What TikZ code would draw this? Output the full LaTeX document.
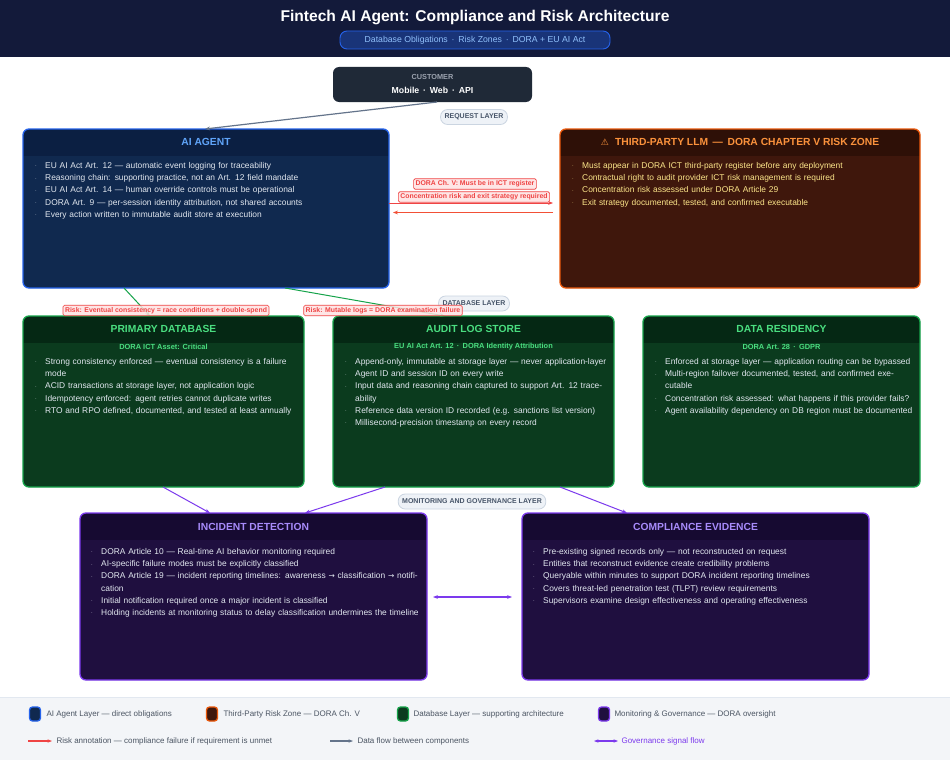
\documentclass[tikz,border=0pt]{standalone}
\usepackage{fontspec}
\setmainfont{Liberation Sans}
\usetikzlibrary{arrows.meta}
\definecolor{hdr}{HTML}{131A3A}
\definecolor{aifill}{HTML}{10294F}\definecolor{aihead}{HTML}{0B1F42}\definecolor{aiborder}{HTML}{2563EB}\definecolor{aititle}{HTML}{60A5FA}
\definecolor{tpfill}{HTML}{3F170C}\definecolor{tphead}{HTML}{2E1007}\definecolor{tpborder}{HTML}{EA580C}\definecolor{tptitle}{HTML}{FB923C}\definecolor{tptext}{HTML}{FDE68A}
\definecolor{dbfill}{HTML}{0B3B1E}\definecolor{dbhead}{HTML}{052814}\definecolor{dbborder}{HTML}{16A34A}\definecolor{dbtitle}{HTML}{4ADE80}
\definecolor{mofill}{HTML}{1F0F3F}\definecolor{mohead}{HTML}{160A31}\definecolor{moborder}{HTML}{7C3AED}\definecolor{motitle}{HTML}{A78BFA}
\definecolor{pillfill}{HTML}{EEF2F7}\definecolor{pillborder}{HTML}{CBD5E1}\definecolor{pilltext}{HTML}{475569}
\definecolor{riskred}{HTML}{EF4444}\definecolor{riskfill}{HTML}{FEE2E2}
\definecolor{bodytext}{HTML}{E2E8F0}
\definecolor{legbg}{HTML}{F3F5F8}\definecolor{legline}{HTML}{E2E8F0}
\definecolor{custfill}{HTML}{1F2937}\definecolor{custgray}{HTML}{9CA3AF}
\definecolor{flowgray}{HTML}{64748B}\definecolor{legtext}{HTML}{4B5563}
\newcommand{\bl}[1]{\par\hangindent=10pt\hangafter=1\noindent\makebox[10pt][l]{\raisebox{0.5pt}{\tiny·}}#1}
\tikzset{
 x=1pt,y=-1pt,
 pill/.style={draw=pillborder,fill=pillfill,rounded corners=7pt,line width=0.8pt,text=pilltext,font=\fontsize{7}{8}\selectfont\bfseries,inner sep=4pt,minimum height=15pt},
 risk/.style={draw=riskred,fill=riskfill,fill opacity=0.85,text opacity=1,rounded corners=1.5pt,text=riskred,font=\fontsize{6.9}{8}\selectfont\bfseries,inner sep=2pt,line width=0.6pt},
 list/.style={anchor=north west,inner sep=0pt,font=\fontsize{8.4}{12.2}\selectfont,align=left},
 btitle/.style={font=\fontsize{10.3}{12}\selectfont\bfseries},
 sub/.style={font=\fontsize{7.4}{9}\selectfont\bfseries},
}
\newcommand{\panel}[8]{% name,x1,y1,x2,y2,fill,head,border
 \fill[#6,rounded corners=6pt] (#2,#3) rectangle (#4,#5);
 \begin{scope}
 \clip[rounded corners=6pt] (#2,#3) rectangle (#4,#5);
 \fill[#7] (#2,#3) rectangle (#4,#3+27);
 \end{scope}
 \draw[#8,line width=1.3pt,rounded corners=6pt] (#2,#3) rectangle (#4,#5);
 \coordinate (#1-nw) at (#2,#3); \coordinate (#1-se) at (#4,#5);
}
\begin{document}
\begin{tikzpicture}
\useasboundingbox (0,0) rectangle (950,776);
\fill[white] (0,0) rectangle (950,776);
% header
\fill[hdr] (0,0) rectangle (950,57);
\node[text=white,font=\fontsize{15.6}{17}\selectfont\bfseries] (title) at (475,18) {Fintech AI Agent: Compliance and Risk Architecture};
\node[draw=aiborder,fill=aiborder!35!hdr,rounded corners=7pt,text=aititle!70!white,font=\fontsize{8.7}{10}\selectfont,minimum width=270pt,minimum height=18pt,inner sep=2pt,line width=0.9pt] (subt) at (475,40) {Database Obligations \,·\, Risk Zones \,·\, DORA + EU AI Act};
% legend bg
\fill[legbg] (0,697) rectangle (950,760);
\draw[legline] (0,697) -- (950,697);
% customer
\node[fill=custfill,rounded corners=6pt,minimum width=199pt,minimum height=35pt] (cust) at (432.5,84.5) {};
\node[text=custgray,font=\fontsize{7.3}{8}\selectfont\bfseries] (custt) at (432.5,77) {CUSTOMER};
\node[text=white,font=\fontsize{8.7}{10}\selectfont\bfseries] (custs) at (432.5,90) {Mobile \,·\, Web \,·\, API};
\node[pill] (req) at (474,117) {REQUEST LAYER};
% AI agent
\panel{ai}{23}{129}{389}{288}{aifill}{aihead}{aiborder}
\node[btitle,text=aititle] (ait) at (206,142) {AI AGENT};
\node[list,text width=340pt,text=bodytext] (ail) at (35,156) {%
\bl{EU AI Act Art. 12 — automatic event logging for traceability}
\bl{Reasoning chain: supporting practice, not an Art. 12 field mandate}
\bl{EU AI Act Art. 14 — human override controls must be operational}
\bl{DORA Art. 9 — per-session identity attribution, not shared accounts}
\bl{Every action written to immutable audit store at execution}};
% third party
\panel{tp}{560}{129}{920}{288}{tpfill}{tphead}{tpborder}
\node[btitle,text=tptitle] (tpt) at (740,142) {\fontspec{DejaVu Sans}\fontsize{9}{10}\selectfont ⚠\ \ \fontspec{Liberation Sans}\fontsize{10.3}{12}\selectfont\bfseries THIRD-PARTY LLM \,—\, DORA CHAPTER V RISK ZONE};
\node[list,text width=345pt,text=tptext] (tpl) at (572,156) {%
\bl{Must appear in DORA ICT third-party register before any deployment}
\bl{Contractual right to audit provider ICT risk management is required}
\bl{Concentration risk assessed under DORA Article 29}
\bl{Exit strategy documented, tested, and confirmed executable}};
% AI <-> LLM arrows
\coordinate (a1) at (389,203); \coordinate (b1) at (553,203);
\coordinate (a2) at (393,212.5); \coordinate (b2) at (553,212.5);
\draw[riskred,line width=1pt,-{Stealth[length=5pt]}] (a1) -- (b1);
\draw[riskred!80!orange,line width=1.2pt,-{Stealth[length=5pt]}] (b2) -- (a2);
\node[risk] (r1) at (475,184) {DORA Ch. V: Must be in ICT register};
\node[risk] (r2) at (474,197) {Concentration risk and exit strategy required};
% database layer
\node[pill] (dbl) at (474,303.5) {DATABASE LAYER};
\panel{pd}{23}{316}{304}{487}{dbfill}{dbhead}{dbborder}
\panel{al}{333}{316}{614}{487}{dbfill}{dbhead}{dbborder}
\panel{dr}{643}{316}{920}{487}{dbfill}{dbhead}{dbborder}
\node[btitle,text=dbtitle] (pdt) at (163.5,329) {PRIMARY DATABASE};
\node[btitle,text=dbtitle] (alt) at (473.5,329) {AUDIT LOG STORE};
\node[btitle,text=dbtitle] (drt) at (781.5,329) {DATA RESIDENCY};
\node[sub,text=dbtitle] (pds) at (163.5,347) {DORA ICT Asset: Critical};
\node[sub,text=dbtitle] (als) at (473.5,347) {EU AI Act Art. 12 \,·\, DORA Identity Attribution};
\node[sub,text=dbtitle] (drs) at (781.5,347) {DORA Art. 28 \,·\, GDPR};
\node[list,text width=262pt,text=bodytext] (pdl) at (35,352) {%
\bl{Strong consistency enforced — eventual consistency is a failure mode}
\bl{ACID transactions at storage layer, not application logic}
\bl{Idempotency enforced: agent retries cannot duplicate writes}
\bl{RTO and RPO defined, documented, and tested at least annually}};
\node[list,text width=262pt,text=bodytext] (all) at (345,352) {%
\bl{Append-only, immutable at storage layer — never application-layer}
\bl{Agent ID and session ID on every write}
\bl{Input data and reasoning chain captured to support Art. 12 traceability}
\bl{Reference data version ID recorded (e.g. sanctions list version)}
\bl{Millisecond-precision timestamp on every record}};
\node[list,text width=258pt,text=bodytext] (drl) at (655,352) {%
\bl{Enforced at storage layer — application routing can be bypassed}
\bl{Multi-region failover documented, tested, and confirmed executable}
\bl{Concentration risk assessed: what happens if this provider fails?}
\bl{Agent availability dependency on DB region must be documented}};
% green arrows
\coordinate (g1) at (124,288); \coordinate (g2) at (285,288);
\draw[dbborder,line width=1pt,-{Stealth[length=5pt]}] (g1) -- (150,316);
\draw[dbborder,line width=1pt,-{Stealth[length=5pt]}] (g2) -- (445,316);
\node[risk] (r3) at (166,310.5) {Risk: Eventual consistency = race conditions + double-spend};
\node[risk] (r4) at (383,310.5) {Risk: Mutable logs = DORA examination failure};
% customer -> AI
\draw[flowgray,line width=1.2pt,-{Stealth[length=5pt]}] (437,102) -- (205,129);
% monitoring
\node[pill] (mon) at (472,501.5) {MONITORING AND GOVERNANCE LAYER};
\panel{id}{80}{513}{427}{680}{mofill}{mohead}{moborder}
\panel{ce}{522}{513}{869}{680}{mofill}{mohead}{moborder}
\node[btitle,text=motitle] (idt) at (253.5,527) {INCIDENT DETECTION};
\node[btitle,text=motitle] (cet) at (695.5,527) {COMPLIANCE EVIDENCE};
\node[list,text width=330pt,text=bodytext] (idl) at (91,542) {%
\bl{DORA Article 10 — Real-time AI behavior monitoring required}
\bl{AI-specific failure modes must be explicitly classified}
\bl{DORA Article 19 — incident reporting timelines: awareness {\fontspec{DejaVu Sans}\fontsize{7.5}{12}\selectfont →} classification {\fontspec{DejaVu Sans}\fontsize{7.5}{12}\selectfont →} notification}
\bl{Initial notification required once a major incident is classified}
\bl{Holding incidents at monitoring status to delay classification undermines the timeline}};
\node[list,text width=330pt,text=bodytext] (cel) at (533,542) {%
\bl{Pre-existing signed records only — not reconstructed on request}
\bl{Entities that reconstruct evidence create credibility problems}
\bl{Queryable within minutes to support DORA incident reporting timelines}
\bl{Covers threat-led penetration test (TLPT) review requirements}
\bl{Supervisors examine design effectiveness and operating effectiveness}};
\draw[moborder,line width=1pt,-{Stealth[length=5pt]}] (163,487) -- (210,513);
\draw[moborder,line width=1pt,-{Stealth[length=5pt]}] (385,487) -- (305,513);
\draw[moborder,line width=1pt,-{Stealth[length=5pt]}] (560,487) -- (627,513);
\draw[moborder,line width=1.2pt,{Stealth[length=5pt]}-{Stealth[length=5pt]}] (433,597) -- (512,597);
% legend
\tikzset{sw/.style={rounded corners=3pt,line width=1.3pt,minimum width=11pt,minimum height=14pt,inner sep=0pt},
 lt/.style={anchor=west,font=\fontsize{8}{9}\selectfont,text=legtext}}
\node[sw,fill=aifill,draw=aiborder] (s1) at (35,714) {};
\node[lt] (t1) at (43,714) {AI Agent Layer — direct obligations};
\node[sw,fill=tpfill,draw=tpborder] (s2) at (212,714) {};
\node[lt] (t2) at (220,714) {Third-Party Risk Zone — DORA Ch. V};
\node[sw,fill=dbfill,draw=dbborder] (s3) at (403,714) {};
\node[lt] (t3) at (410,714) {Database Layer — supporting architecture};
\node[sw,fill=mofill,draw=moborder] (s4) at (604,714) {};
\node[lt] (t4) at (611,714) {Monitoring \& Governance — DORA oversight};
\coordinate (l1a) at (28,741); \coordinate (l1b) at (52,741);
\draw[riskred,line width=1.1pt,-{Stealth[length=4.5pt]}] (l1a) -- (l1b);
\node[lt] (t5) at (53,741) {Risk annotation — compliance failure if requirement is unmet};
\coordinate (l2a) at (330,741); \coordinate (l2b) at (353,741);
\draw[flowgray,line width=1.1pt,-{Stealth[length=4.5pt]}] (l2a) -- (l2b);
\node[lt] (t6) at (354,741) {Data flow between components};
\coordinate (l3a) at (594,741); \coordinate (l3b) at (618,741);
\draw[moborder,line width=1.1pt,{Stealth[length=4.5pt]}-{Stealth[length=4.5pt]}] (l3a) -- (l3b);
\node[lt,text=moborder] (t7) at (618,741) {Governance signal flow};
\end{tikzpicture}
\end{document}
